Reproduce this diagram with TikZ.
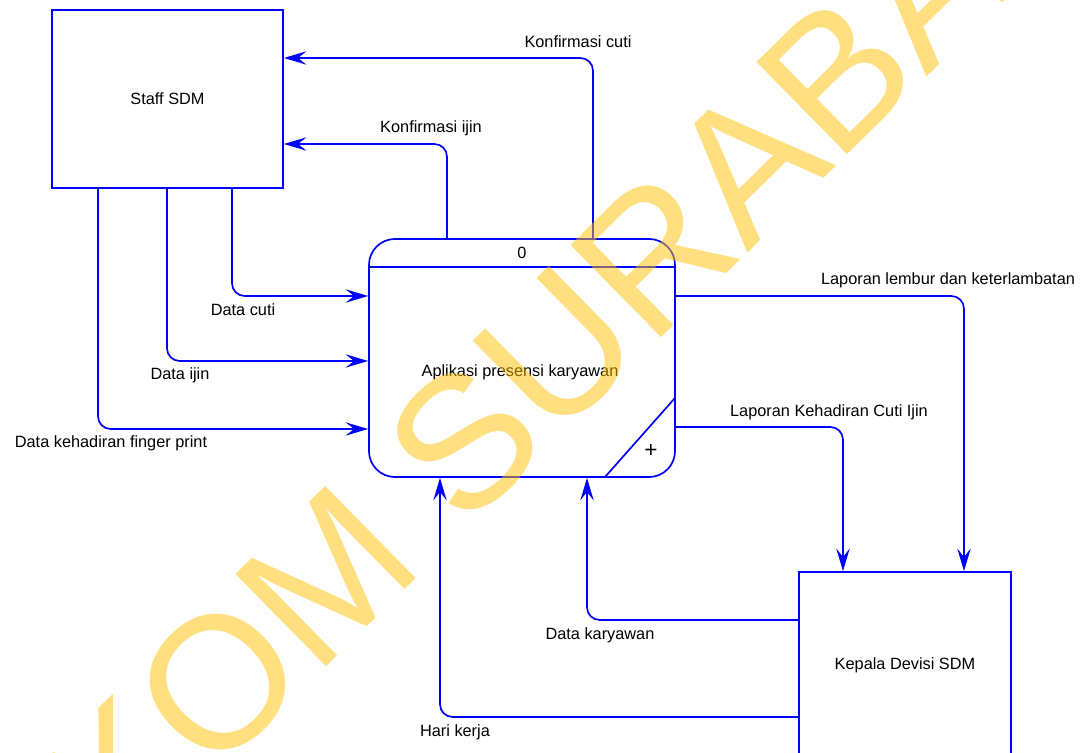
\documentclass[tikz,border=0pt]{standalone}
\usepackage{fontspec}
\setmainfont{Liberation Sans}
\usetikzlibrary{arrows.meta}

\definecolor{dfdblue}{RGB}{0,0,255}
\definecolor{wmyellow}{RGB}{255,192,0}
\newcommand{\dfdfont}{\fontsize{11.6pt}{14pt}\selectfont}

\begin{document}
\begin{tikzpicture}[
        x=0.025cm, y=-0.025cm,
        entity/.style={rectangle, draw=dfdblue, line width=1.2pt, inner sep=0pt, font=\dfdfont},
        process/.style={rectangle, draw=dfdblue, line width=1.2pt, rounded corners=0.65cm, inner sep=0pt, minimum width=7.65cm, minimum height=5.95cm},
        flow/.style={draw=dfdblue, line width=1.2pt, rounded corners=9pt, -{Stealth[length=16pt, width=9.5pt, inset=6pt]}},
        flowlabel/.style={font=\dfdfont, inner sep=0pt},
        watermark/.style={font=\fontsize{133.7pt}{140pt}\selectfont, text=wmyellow, text opacity=0.5, inner sep=0pt, anchor=base, rotate=44.5},
    ]
    % frame of the page
    \clip (0,0) rectangle (1081,753);

    % ===== Entities and process =====
    \node[entity, minimum width=5.775cm, minimum height=4.45cm] (staff) at (167.5,99) {Staff SDM};
    \node[entity, minimum width=5.3cm, minimum height=4.65cm] (kepala) at (905,665) {Kepala Devisi SDM};
    \node[process] (proses) at (522,358) {};
    \node[flowlabel] (nomor) at (522,253) {0};
    \node[flowlabel] (nama) at (520,372) {Aplikasi presensi karyawan};

    % header bar and the corner mark of the process
    \coordinate (hdr) at (522,267);
    \draw[dfdblue, line width=1.2pt] (proses.west |- hdr) -- (proses.east |- hdr);
    \draw[dfdblue, line width=1.2pt] (605,477) -- (675,398);
    \node[flowlabel] (plus) at (651,451) {\fontsize{16pt}{16pt}\selectfont +};

    % ===== Bend points of the flows =====
    \coordinate (kcuti) at (593,58);
    \coordinate (kijin) at (447,144);
    \coordinate (dcuti) at (232,296);
    \coordinate (dijin) at (167,361);
    \coordinate (dfing) at (98,429);
    \coordinate (llemb) at (964,296);
    \coordinate (lhadir) at (843,427);
    \coordinate (dkary) at (587,620);
    \coordinate (hkerja) at (440,717);

    % ===== Flows =====
    % process -> Staff SDM
    \draw[flow] (proses.north -| kcuti) |- (staff.east |- kcuti);
    \draw[flow] (proses.north -| kijin) |- (staff.east |- kijin);
    % Staff SDM -> process
    \draw[flow] (staff.south -| dcuti) |- (proses.west |- dcuti);
    \draw[flow] (staff.south -| dijin) |- (proses.west |- dijin);
    \draw[flow] (staff.south -| dfing) |- (proses.west |- dfing);
    % process -> Kepala Devisi SDM
    \draw[flow] (proses.east |- llemb) -| (kepala.north -| llemb);
    \draw[flow] (proses.east |- lhadir) -| (kepala.north -| lhadir);
    % Kepala Devisi SDM -> process
    \draw[flow] (kepala.west |- dkary) -| (proses.south -| dkary);
    \draw[flow] (kepala.west |- hkerja) -| (proses.south -| hkerja);

    % ===== Flow labels =====
    \node[flowlabel] (lkcuti) at (578,42) {Konfirmasi cuti};
    \node[flowlabel] (lkijin) at (431,128) {Konfirmasi ijin};
    \node[flowlabel] (ldcuti) at (243,310) {Data cuti};
    \node[flowlabel] (ldijin) at (180,375) {Data ijin};
    \node[flowlabel] (ldfing) at (111,443) {Data kehadiran finger print};
    \node[flowlabel] (lllemb) at (948,280) {Laporan lembur dan keterlambatan};
    \node[flowlabel] (llhadir) at (829,412) {Laporan Kehadiran Cuti Ijin};
    \node[flowlabel] (ldkary) at (600,635) {Data karyawan};
    \node[flowlabel] (lhkerja) at (455,732) {Hari kerja};

    % ===== Watermark =====
    \node[watermark] (stamp) at (544,453) {STIKOM SURABAYA};
\end{tikzpicture}
\end{document}
